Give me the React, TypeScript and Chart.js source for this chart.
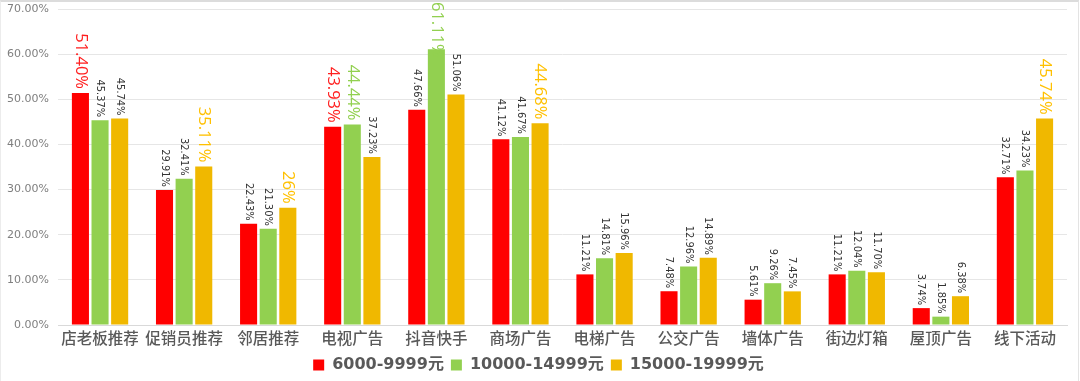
import React, { useEffect, useRef } from "react";
import { Chart, registerables } from "chart.js";

Chart.register(...registerables);

const categories = [
  "店老板推荐",
  "促销员推荐",
  "邻居推荐",
  "电视广告",
  "抖音快手",
  "商场广告",
  "电梯广告",
  "公交广告",
  "墙体广告",
  "街边灯箱",
  "屋顶广告",
  "线下活动",
];

const seriesNames = ["6000-9999元", "10000-14999元", "15000-19999元"];

const values6000 = [51.4, 29.91, 22.43, 43.93, 47.66, 41.12, 11.21, 7.48, 5.61, 11.21, 3.74, 32.71];
const values10000 = [45.37, 32.41, 21.3, 44.44, 61.11, 41.67, 14.81, 12.96, 9.26, 12.04, 1.85, 34.23];
const values15000 = [45.74, 35.11, 26, 37.23, 51.06, 44.68, 15.96, 14.89, 7.45, 11.7, 6.38, 45.74];

// indices whose data labels are emphasised (large coloured labels)
const emphasis6000 = [0, 3];
const emphasis10000 = [3, 4];
const emphasis15000 = [1, 2, 5, 11];

const yMin = 0;
const yMax = 70;
const yStep = 10;

const barColors = ["#FF0000", "#92D050", "#F0B800"];
const labelColors = ["#FF2020", "#92D050", "#FFC000"];

const fmt = (v: number) => (Number.isInteger(v) ? `${v}%` : `${v.toFixed(2)}%`);

const labelPlugin = {
  id: "barLabels",
  afterDatasetsDraw(chart: any) {
    const ctx = chart.ctx as CanvasRenderingContext2D;
    chart.data.datasets.forEach((ds: any, di: number) => {
      const meta = chart.getDatasetMeta(di);
      const emph: number[] = ds.emphasis || [];
      meta.data.forEach((el: any, i: number) => {
        const v = ds.data[i] as number;
        const big = emph.includes(i);
        const text = fmt(v);
        ctx.save();
        ctx.font = big
          ? '16.5px "Open Sans", "Liberation Sans", sans-serif'
          : '11px "Liberation Sans Narrow", "DejaVu Sans Condensed", "Arial Narrow", sans-serif';
        ctx.fillStyle = big ? ds.labelColor : "#333333";
        const w = ctx.measureText(text).width;
        let end = el.y - (big ? 4 : 3);
        if (end - w < 2) end = 2 + w;
        ctx.translate(el.x, end);
        ctx.rotate(Math.PI / 2);
        ctx.textAlign = "right";
        ctx.textBaseline = "middle";
        ctx.fillText(text, 0, 0);
        ctx.restore();
      });
    });
  },
};

const legendShiftPlugin = {
  id: "legendShift",
  afterLayout(chart: any) {
    if (chart.legend) {
      chart.legend.left += 5;
      chart.legend.right += 5;
    }
  },
};

export default function App() {
  const ref = useRef<HTMLCanvasElement | null>(null);

  useEffect(() => {
    if (!ref.current) return;
    const datasets = [values6000, values10000, values15000].map((vals, k) => ({
      label: seriesNames[k],
      data: vals,
      backgroundColor: barColors[k],
      borderWidth: 0,
      categoryPercentage: 0.7,
      barPercentage: 0.87,
      emphasis: [emphasis6000, emphasis10000, emphasis15000][k],
      labelColor: labelColors[k],
    }));
    const chart = new Chart(ref.current, {
      type: "bar",
      data: { labels: categories, datasets: datasets as any },
      options: {
        animation: false,
        responsive: false,
        devicePixelRatio: 1,
        layout: { padding: { top: 9, right: 13, bottom: -2, left: 0 } },
        plugins: {
          tooltip: { enabled: false },
          legend: {
            position: "bottom",
            labels: {
              boxWidth: 11,
              boxHeight: 11,
              padding: 7,
              color: "#595959",
              font: { family: '"DejaVu Sans", "Noto Sans CJK SC", sans-serif', size: 16, weight: "bold" },
            },
          },
        },
        scales: {
          x: {
            grid: { display: false },
            border: { color: "#d9d9d9" },
            afterFit: (scale: any) => {
              scale.height = 25;
              scale.paddingLeft = 0;
              scale.paddingRight = 0;
            },
            ticks: {
              color: "#595959",
              padding: -4,
              maxRotation: 0,
              autoSkip: false,
              font: { family: '"Noto Sans CJK SC", sans-serif', size: 15.5, weight: "500" },
            },
          },
          y: {
            min: yMin,
            max: yMax,
            afterFit: (scale: any) => {
              scale.width = 58;
              scale.paddingTop = 0;
              scale.paddingBottom = 0;
            },
            grid: { color: "#e6e6e6", drawTicks: false },
            border: { display: false },
            ticks: {
              stepSize: yStep,
              padding: 9,
              color: "#7f7f7f",
              font: { family: '"DejaVu Sans", sans-serif', size: 11 },
              callback: (v: any) => `${Number(v).toFixed(2)}%`,
            },
          },
        },
      },
      plugins: [labelPlugin, legendShiftPlugin],
    });
    return () => chart.destroy();
  }, []);

  return (
    <div style={{ position: "fixed", left: 0, top: 0, width: 1080, height: 381, background: "#fff" }}>
      <canvas ref={ref} width={1080} height={381} style={{ width: 1080, height: 381, display: "block" }} />
      <div
        style={{
          position: "absolute",
          left: 0,
          top: 0,
          width: 1079,
          height: 381,
          boxSizing: "border-box",
          borderTop: "2px solid #dcdcdc",
          borderRight: "1px solid #e3e3e3",
          borderLeft: "1px solid #ececec",
          pointerEvents: "none",
        }}
      />
    </div>
  );
}
